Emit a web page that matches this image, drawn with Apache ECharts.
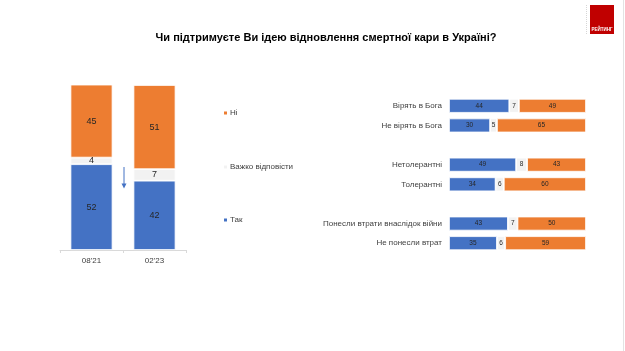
<!DOCTYPE html>
<html>
<head>
<meta charset="utf-8">
<script src="https://cdn.jsdelivr.net/npm/echarts@6/dist/echarts.min.js"></script>
<style>
  html, body { margin: 0; padding: 0; background: #fff; }
  #chart { width: 625px; height: 351px; }
</style>
</head>
<body>
<div id="chart"></div>
<script>
// дані з картинки
const waves = ["08'21", "02'23"]
const yesWave = [52, 42]
const hardWave = [4, 7]
const noWave = [45, 51]

const groups = ['Вірять в Бога', 'Не вірять в Бога', 'Нетолерантні', 'Толерантні', 'Понесли втрати внаслідок війни', 'Не понесли втрат']
const yesGroup = [44, 30, 49, 34, 43, 35]
const hardGroup = [7, 5, 8, 6, 7, 6]
const noGroup = [49, 65, 43, 60, 50, 59]

const names = ['Так', 'Важко відповісти', 'Ні']
const colors = ['#4472C4', '#F2F2F2', '#ED7D31']
const font = "'Liberation Sans', Arial, sans-serif"

// пари груп розділені порожнім рядком
const withGaps = (arr, blank) => {
  const out = []
  arr.forEach((v, i) => {
    if (i > 0 && i % 2 === 0) out.push(blank)
    out.push(v)
  })
  return out
}

const chart = echarts.init(document.getElementById('chart'))

const leftSeries = [yesWave, hardWave, noWave].map((d, i) => ({
  name: names[i],
  type: 'bar',
  stack: 'l',
  xAxisIndex: 0,
  yAxisIndex: 0,
  barWidth: 42,
  data: d,
  itemStyle: { color: colors[i], borderColor: '#fff', borderWidth: 0.8 },
  label: { show: true, color: '#262626', fontSize: 9, fontFamily: font }
}))

const rightSeries = [yesGroup, hardGroup, noGroup].map((d, i) => ({
  name: names[i],
  type: 'bar',
  stack: 'r',
  xAxisIndex: 1,
  yAxisIndex: 1,
  barWidth: 14,
  data: withGaps(d, null),
  itemStyle: { color: colors[i], borderColor: '#fff', borderWidth: 0.8 },
  label: { show: true, color: '#262626', fontSize: 6.5, fontFamily: font }
}))

const legendTops = [216, 163, 109]

const option = {
  animation: false,
  textStyle: { fontFamily: font },
  title: {
    text: 'Чи підтримуєте Ви ідею відновлення смертної кари в Україні?',
    left: 321,
    textAlign: 'center',
    top: 27,
    textStyle: { fontSize: 11, fontWeight: 'bold', color: '#000', fontFamily: font }
  },
  legend: names.map((n, i) => ({
    data: [n],
    left: 222,
    top: legendTops[i],
    padding: 0,
    icon: 'rect',
    itemWidth: 5,
    itemHeight: 5,
    selectedMode: false,
    textStyle: { fontSize: 8, color: '#404040', fontFamily: font, padding: [0, 0, 0, -3] }
  })),
  grid: [
    { left: 60, right: 439, top: 85, bottom: 101 },
    { left: 449, right: 39, top: 96, bottom: 98 }
  ],
  xAxis: [
    {
      type: 'category',
      gridIndex: 0,
      data: waves,
      axisLine: { lineStyle: { color: '#d9d9d9' } },
      axisTick: { show: true, length: 3, lineStyle: { color: '#d9d9d9' } },
      axisLabel: { color: '#404040', fontSize: 8, margin: 7, fontFamily: font }
    },
    { type: 'value', gridIndex: 1, min: 0, max: 100, show: false }
  ],
  yAxis: [
    { type: 'value', gridIndex: 0, min: 0, max: 100, show: false },
    {
      type: 'category',
      gridIndex: 1,
      inverse: true,
      data: withGaps(groups, ''),
      axisLine: { show: false },
      axisTick: { show: false },
      axisLabel: { color: '#404040', fontSize: 8, margin: 7, fontFamily: font }
    }
  ],
  graphic: [
    // стрілка
    { type: 'line', shape: { x1: 124, y1: 167, x2: 124, y2: 185 }, style: { stroke: '#4472C4', lineWidth: 1 } },
    { type: 'polygon', shape: { points: [[121.5, 183.5], [126.5, 183.5], [124, 188.5]] }, style: { fill: '#4472C4' } },
    // логотип
    { type: 'rect', shape: { x: 590, y: 5, width: 24, height: 29 }, style: { fill: '#C00000' } },
    { type: 'line', shape: { x1: 586.5, y1: 5, x2: 586.5, y2: 34 }, style: { stroke: '#bbb', lineWidth: 0.6, lineDash: [1, 1] } },
    { type: 'text', style: { text: 'РЕЙТИНГ', x: 602, y: 29.5, fill: '#fff', fontSize: 4.5, fontWeight: 'bold', align: 'center', verticalAlign: 'middle', fontFamily: font } },
    // рамка справа
    { type: 'line', shape: { x1: 623.5, y1: 0, x2: 623.5, y2: 351 }, style: { stroke: '#e3e3e3', lineWidth: 1 } }
  ],
  series: [...leftSeries, ...rightSeries]
}

chart.setOption(option)
</script>
</body>
</html>
